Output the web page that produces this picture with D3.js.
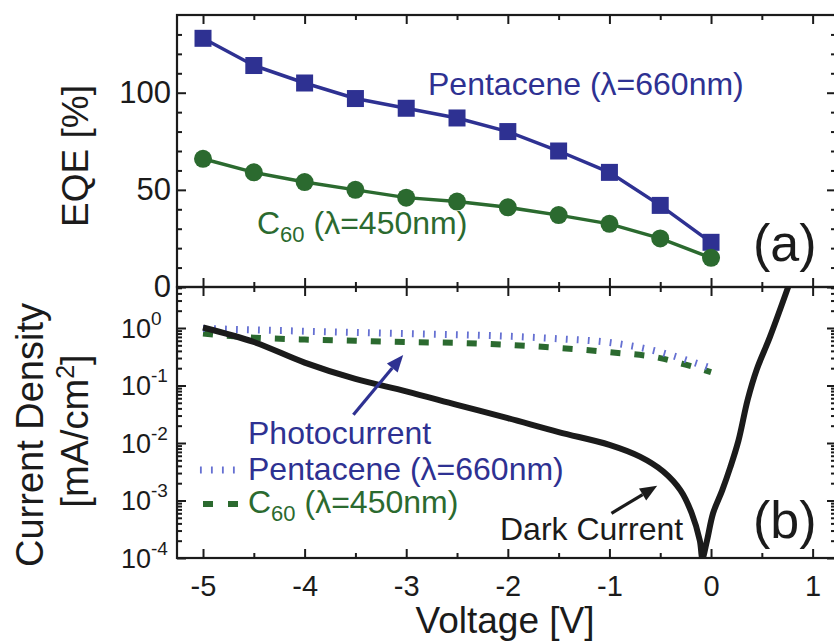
<!DOCTYPE html>
<meta charset="utf-8">
<style>
body { margin: 0; background: #fff; }
text { font-family: "Liberation Sans", Arial, Helvetica, sans-serif; }
</style>
<body>
<script src="https://cdn.jsdelivr.net/npm/d3@7"></script>
<script>

// (a) EQE vs voltage
let eqeVolts = [-5, -4.5, -4, -3.5, -3, -2.5, -2, -1.5, -1, -0.5, 0];
let eqePentacene = [128, 114, 105, 97, 92, 87, 80, 70, 59, 42, 23];
let eqeC60 = [66, 59, 54, 50, 46, 44, 41, 37, 32.5, 25, 15];

// (b) current density, mA/cm2
let darkV = [-5, -4.5, -4, -3.5, -3, -2.5, -2, -1.5, -1, -0.7, -0.47, -0.3, -0.19, -0.11, -0.085,
  -0.04, 0.02, 0.11, 0.19, 0.27, 0.36, 0.45, 0.58, 0.76];
let darkJ = [1.02, 0.57, 0.25, 0.13, 0.079, 0.046, 0.027, 0.0155, 0.0093, 0.0058, 0.0032, 0.0015,
  0.0006, 0.0002, 0.0001, 0.0002, 0.0006, 0.0015, 0.0038, 0.011, 0.056, 0.19, 0.70, 5.2];
let photoPentV = [-5, -4, -3, -2, -1.5, -1, -0.5, -0.25, 0];
let photoPentJ = [0.98, 0.88, 0.80, 0.72, 0.65, 0.56, 0.38, 0.28, 0.20];
let photoC60V = [-5, -4.5, -4, -3.5, -3, -2.5, -2, -1.5, -1, -0.5, -0.25, 0];
let photoC60J = [0.80, 0.68, 0.63, 0.60, 0.57, 0.55, 0.51, 0.45, 0.38, 0.30, 0.23, 0.17];

// ticks
let voltTicks = [-5, -4, -3, -2, -1, 0, 1];
let voltMinor = [-4.5, -3.5, -2.5, -1.5, -0.5, 0.5];
let eqeTicks = [0, 50, 100];
let eqeMinor = [10, 20, 30, 40, 60, 70, 80, 90, 110, 120, 130];
let jExps = [-4, -3, -2, -1, 0];

let navy = '#2e3192', green = '#2b6a2f', lightBlue = '#6570d2', ink = '#1b1b1b';
let width = 834, height = 643;
let L = 177, R = 836, T = 15, M = 287, B = 558;

let svg = d3.select('body').append('svg')
  .attr('width', width)
  .attr('height', height);

let x = d3.scaleLinear().domain([-5.256, 1.23]).range([L, R]);
let yTop = d3.scaleLinear().domain([0, 140]).range([M, T]);
let yBot = d3.scaleLog().domain([1e-4, Math.pow(10, 0.713)]).range([B, M]);

let defs = svg.append('defs');
defs.append('clipPath').attr('id', 'clipB')
  .append('rect').attr('x', L).attr('y', M).attr('width', R - L).attr('height', B - M);
defs.append('clipPath').attr('id', 'clipT')
  .append('rect').attr('x', L).attr('y', T).attr('width', R - L).attr('height', M - T);

// axes helper
let axisG = function(axis, tx, ty, fs) {
  let g = svg.append('g').attr('transform', 'translate(' + tx + ',' + ty + ')').call(axis);
  g.select('.domain').remove();
  g.selectAll('line').attr('stroke', ink).attr('stroke-width', 2);
  g.selectAll('text').attr('fill', ink).style('font-size', fs + 'px')
    .style('font-family', '"Liberation Sans", Arial, sans-serif');
  return g;
}

// x ticks: top frame, shared middle, bottom
axisG(d3.axisBottom(x).tickValues(voltTicks).tickSize(9).tickFormat(''), 0, T);
axisG(d3.axisBottom(x).tickValues(voltMinor).tickSize(5).tickFormat(''), 0, T);
axisG(d3.axisTop(x).tickValues(voltTicks).tickSize(9).tickFormat(''), 0, M);
axisG(d3.axisTop(x).tickValues(voltMinor).tickSize(5).tickFormat(''), 0, M);
axisG(d3.axisBottom(x).tickValues(voltTicks).tickSize(9).tickFormat(''), 0, M);
axisG(d3.axisBottom(x).tickValues(voltMinor).tickSize(5).tickFormat(''), 0, M);
axisG(d3.axisBottom(x).tickValues(voltTicks).tickSizeInner(-9).tickSizeOuter(0).tickPadding(17)
  .tickFormat(d => d), 0, B, 29);
axisG(d3.axisBottom(x).tickValues(voltMinor).tickSize(-5).tickFormat(''), 0, B);

// top panel y ticks
axisG(d3.axisLeft(yTop).tickValues(eqeTicks).tickSizeInner(-9).tickSizeOuter(0).tickPadding(6)
  .tickFormat(d => d), L, 0, 31);
axisG(d3.axisLeft(yTop).tickValues(eqeMinor).tickSize(-5).tickFormat(''), L, 0);
axisG(d3.axisRight(yTop).tickValues(eqeTicks).tickSize(-9).tickFormat(''), R, 0);
axisG(d3.axisRight(yTop).tickValues(eqeMinor).tickSize(-5).tickFormat(''), R, 0);

// bottom panel y ticks (log)
let jMajor = jExps.map(e => Math.pow(10, e));
let jMinor = [];
jExps.forEach(e => { for (let k = 2; k <= 9; k++) { if (e < 0 || k <= 5) jMinor.push(k * Math.pow(10, e)); } });
axisG(d3.axisLeft(yBot).tickValues(jMajor).tickSize(-9).tickFormat(''), L, 0);
axisG(d3.axisLeft(yBot).tickValues(jMinor).tickSize(-5).tickFormat(''), L, 0);
axisG(d3.axisRight(yBot).tickValues(jMajor).tickSize(-9).tickFormat(''), R, 0);
axisG(d3.axisRight(yBot).tickValues(jMinor).tickSize(-5).tickFormat(''), R, 0);

let jLab = svg.append('g').selectAll('text').data(jExps).enter().append('text')
  .attr('x', 121)
  .attr('y', d => yBot(Math.pow(10, d)) + 10)
  .attr('fill', ink)
  .style('font-size', '27px');
jLab.append('tspan').text('10');
jLab.append('tspan').attr('dy', -13).style('font-size', '19px').text(d => d === 0 ? '0' : '-' + Math.abs(d));

// frames
svg.append('rect').attr('x', L).attr('y', T).attr('width', R - L).attr('height', M - T)
  .attr('fill', 'none').attr('stroke', ink).attr('stroke-width', 2.2);
svg.append('rect').attr('x', L).attr('y', M).attr('width', R - L).attr('height', B - M)
  .attr('fill', 'none').attr('stroke', ink).attr('stroke-width', 2.2);

// (a) EQE curves
let eqeLine = d3.line().x(d => x(d[0])).y(d => yTop(d[1]));
let pentPts = eqeVolts.map((v, i) => [v, eqePentacene[i]]);
let c60Pts = eqeVolts.map((v, i) => [v, eqeC60[i]]);
let panelA = svg.append('g').attr('clip-path', 'url(#clipT)');

panelA.append('path').datum(pentPts).attr('d', eqeLine)
  .attr('fill', 'none').attr('stroke', navy).attr('stroke-width', 3.5);
panelA.selectAll('.sq').data(pentPts).enter().append('rect')
  .attr('class', 'sq')
  .attr('x', d => x(d[0]) - 8.5).attr('y', d => yTop(d[1]) - 8.5)
  .attr('width', 17).attr('height', 17).attr('fill', navy);

panelA.append('path').datum(c60Pts).attr('d', eqeLine)
  .attr('fill', 'none').attr('stroke', green).attr('stroke-width', 3.5);
panelA.selectAll('.ci').data(c60Pts).enter().append('circle')
  .attr('class', 'ci')
  .attr('cx', d => x(d[0])).attr('cy', d => yTop(d[1]))
  .attr('r', 9).attr('fill', green);

// (b) current density
let jLine = d3.line().x(d => x(d[0])).y(d => yBot(d[1])).curve(d3.curveMonotoneX);
let panelB = svg.append('g').attr('clip-path', 'url(#clipB)');

panelB.append('path').datum(photoC60V.map((v, i) => [v, photoC60J[i]])).attr('d', jLine)
  .attr('fill', 'none').attr('stroke', green).attr('stroke-width', 6)
  .attr('stroke-dasharray', '10 14');
panelB.append('path').datum(photoPentV.map((v, i) => [v, photoPentJ[i]])).attr('d', jLine)
  .attr('fill', 'none').attr('stroke', lightBlue).attr('stroke-width', 7)
  .attr('stroke-dasharray', '1.8 9.2');
panelB.append('path').datum(darkV.map((v, i) => [v, darkJ[i]]))
  .attr('d', d3.line().x(d => x(d[0])).y(d => yBot(d[1])).curve(d3.curveCatmullRom))
  .attr('fill', 'none').attr('stroke', ink).attr('stroke-width', 6)
  .attr('stroke-linejoin', 'round');

// arrows
let arrow = function(v0, j0, v1, j1, col) {
  let x0 = x(v0), y0 = yBot(j0), x1 = x(v1), y1 = yBot(j1);
  let a = Math.atan2(y1 - y0, x1 - x0), hl = 17, hw = 7;
  let bx = x1 - hl * Math.cos(a), by = y1 - hl * Math.sin(a);
  svg.append('line').attr('x1', x0).attr('y1', y0).attr('x2', bx).attr('y2', by)
    .attr('stroke', col).attr('stroke-width', 3.2);
  svg.append('path')
    .attr('d', 'M' + x1 + ',' + y1 +
      'L' + (bx + hw * Math.sin(a)) + ',' + (by - hw * Math.cos(a)) +
      'L' + (bx - hw * Math.sin(a)) + ',' + (by + hw * Math.cos(a)) + 'Z')
    .attr('fill', col);
}
arrow(-3.52, 0.031, -3.03, 0.34, navy);
arrow(-0.98, 0.0006, -0.53, 0.0018, ink);

// labels
let label = function(txt, tx, ty, col, fs) {
  return svg.append('text').attr('x', tx).attr('y', ty).attr('fill', col)
    .style('font-size', fs + 'px').text(txt);
}
let c60Label = function(tx, ty) {
  let t = svg.append('text').attr('x', tx).attr('y', ty).attr('fill', green).style('font-size', '32px');
  t.append('tspan').text('C');
  t.append('tspan').attr('dy', 8).style('font-size', '22px').text('60');
  t.append('tspan').attr('dy', -8).text(' (\u03bb=450nm)');
}
label('Pentacene (\u03bb=660nm)', 428, 95, navy, 32);
c60Label(257, 234);
label('(a)', 753, 261, ink, 52);

label('Photocurrent', 248, 444, navy, 32);
label('Pentacene (\u03bb=660nm)', 248, 480, navy, 32);
c60Label(248, 513);
label('Dark Current', 500, 540, ink, 32);
label('(b)', 753, 538, ink, 52);

// legend swatches
svg.append('line').attr('x1', x(-5.03)).attr('x2', x(-4.63)).attr('y1', 470).attr('y2', 470)
  .attr('stroke', lightBlue).attr('stroke-width', 7).attr('stroke-dasharray', '1.8 9.2');
svg.append('line').attr('x1', x(-5.0)).attr('x2', x(-4.64)).attr('y1', 504).attr('y2', 504)
  .attr('stroke', green).attr('stroke-width', 6).attr('stroke-dasharray', '10 15');

// axis titles
svg.append('text').attr('transform', 'translate(88,156) rotate(-90)')
  .attr('text-anchor', 'middle').attr('fill', ink).style('font-size', '37px').text('EQE [%]');
svg.append('text').attr('transform', 'translate(43,435) rotate(-90)')
  .attr('text-anchor', 'middle').attr('fill', ink).style('font-size', '38px').text('Current Density');
let unit = svg.append('text').attr('transform', 'translate(88,431) rotate(-90)')
  .attr('text-anchor', 'middle').attr('fill', ink).style('font-size', '38px');
unit.append('tspan').text('[mA/cm');
unit.append('tspan').attr('dy', -14).style('font-size', '25px').text('2');
unit.append('tspan').attr('dy', 14).text(']');
svg.append('text').attr('x', 505).attr('y', 633).attr('text-anchor', 'middle')
  .attr('fill', ink).style('font-size', '37px').text('Voltage [V]');

</script>
</body>
